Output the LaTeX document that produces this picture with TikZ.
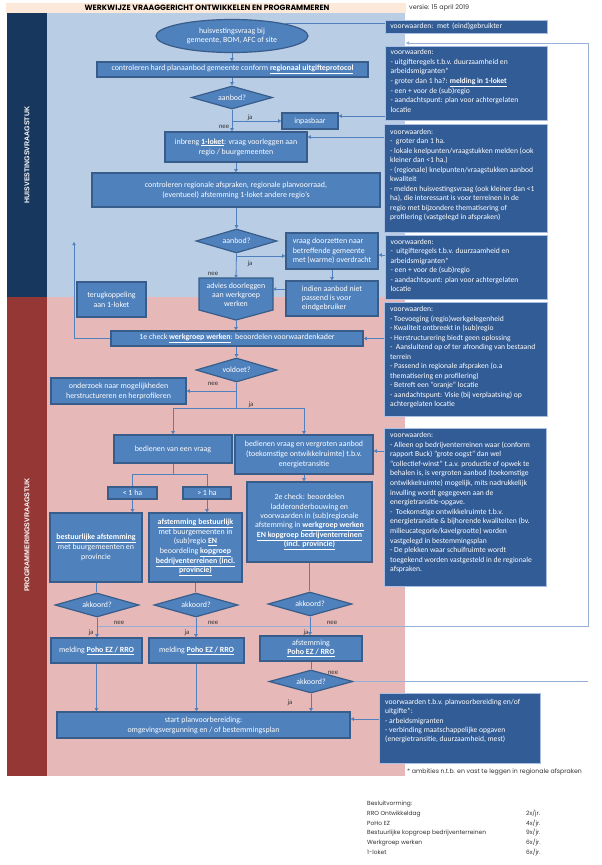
\documentclass[tikz,border=0pt]{standalone}
\usepackage{fontspec}
\setmainfont{Carlito}
\newfontfamily\gothic{Poppins}
\newfontfamily\sidefont{Liberation Sans}
\usetikzlibrary{shapes.geometric,arrows.meta}
\definecolor{bgblue}{RGB}{185,205,229}
\definecolor{bgpink}{RGB}{230,185,184}
\definecolor{navyband}{RGB}{23,55,94}
\definecolor{redband}{RGB}{149,55,53}
\definecolor{hdr}{RGB}{253,233,217}
\definecolor{flowfill}{RGB}{79,129,189}
\definecolor{flowdraw}{RGB}{56,93,138}
\definecolor{cfill}{RGB}{50,92,150}
\definecolor{cdraw}{RGB}{170,190,225}
\definecolor{lineblue}{RGB}{80,128,190}
\definecolor{retblue}{RGB}{150,175,215}
\definecolor{labgray}{RGB}{50,50,50}
\newcommand\flowfont{\fontsize{7.9}{9.9}\selectfont}
\newcommand\cfont{\fontsize{7.6}{9.7}\selectfont}
\begin{document}
\begin{tikzpicture}[x=1pt,y=-1pt,
  fbox/.style={rectangle, fill=flowfill, draw=flowdraw, line width=1.2pt, text=white, align=center, inner sep=1pt, font=\flowfont},
  dec/.style={diamond, fill=flowfill, draw=flowdraw, line width=1.2pt, text=white, inner sep=0pt, aspect=3, font=\flowfont},
  cbox/.style={rectangle, fill=cfill, draw=cdraw, line width=0.6pt, anchor=north west, inner sep=0pt},
  ctext/.style={text=white, align=left, anchor=north west, inner sep=0pt},
  conn/.style={draw=lineblue, line width=0.8pt},
  arr/.style={conn, -{Triangle[length=3.2pt,width=3.4pt]}},
  ret/.style={draw=retblue, line width=0.8pt},
  lab/.style={font=\fontsize{6.8}{7}\selectfont, text=labgray, inner sep=0pt},
  legend/.style={font=\gothic\fontsize{5.9}{7}\selectfont, text=labgray, inner sep=0pt, anchor=base west}]
\useasboundingbox (0,0) rectangle (602,865);
\fill[white] (0,0) rectangle (602,865);
% backgrounds
\fill[hdr] (6,3) rectangle (406,13);
\fill[navyband] (7,13) rectangle (47,297);
\fill[redband] (7,297) rectangle (47,776);
\fill[bgblue] (47,13) rectangle (405,297);
\fill[bgpink] (47,297) rectangle (405,776);
\node[font=\gothic\bfseries\fontsize{7.7}{8}\selectfont, inner sep=0pt] (title) at (207,8) {WERKWIJZE VRAAGGERICHT ONTWIKKELEN EN PROGRAMMEREN};
\node[font=\gothic\fontsize{6.4}{7}\selectfont, anchor=west, inner sep=0pt, text=labgray] (versie) at (409,7.5) {versie: 15 april 2019};
\node[rotate=90, text=white, font=\sidefont\fontsize{7}{8}\selectfont\bfseries] (sideA) at (27,155) {HUISVESTINGSVRAAGSTUK};
\node[rotate=90, text=white, font=\sidefont\fontsize{7}{8}\selectfont\bfseries] (sideB) at (27,535) {PROGRAMMERINGSVRAAGSTUK};

% helper coordinates
\coordinate (h116) at (0,116);
\coordinate (h137) at (0,137);
\coordinate (h255) at (0,255);
\coordinate (h256) at (0,256);
\coordinate (h451) at (0,451);
\coordinate (h626) at (0,626);
\coordinate (h719) at (0,719);
\coordinate (retR) at (588,43);
\coordinate (retTop) at (406,43);
\coordinate (loopTop) at (74,242);

% right condition boxes
\node[cbox, minimum width=162, minimum height=13, text=white, align=left, text width=152, inner xsep=5pt, font=\cfont] (c1) at (385,20) {voorwaarden: met (eind)gebruikter};
\node[cbox, minimum width=162, minimum height=74] (c2) at (385,46) {};
\node[ctext, font=\fontsize{7.6}{9.7}\selectfont, xshift=5.5pt, yshift=-3pt] (c2t) at (c2.north west) {voorwaarden:\\- uitgifteregels t.b.v. duurzaamheid en\\arbeidsmigranten*\\- groter dan 1 ha?: \underline{\textbf{melding in 1-loket}}\\- een + voor de (sub)regio\\- aandachtspunt: plan voor achtergelaten\\locatie};
\node[cbox, minimum width=163, minimum height=108] (c3) at (384,124) {};
\node[ctext, font=\fontsize{7.6}{9.45}\selectfont, xshift=6pt, yshift=-5pt] (c3t) at (c3.north west) {voorwaarden:\\-\ \ groter dan 1 ha.\\- lokale knelpunten/vraagstukken melden (ook\\kleiner dan <1 ha.)\\- (regionale) knelpunten/vraagstukken aanbod\\kwaliteit\\- melden huisvestingsvraag (ook kleiner dan <1\\ha), die interessant is voor terreinen in de\\regio met bijzondere thematisering of\\profilering (vastgelegd in afspraken)};
\node[cbox, minimum width=162, minimum height=64] (c4) at (385,235) {};
\node[ctext, font=\fontsize{7.6}{9.5}\selectfont, xshift=5.5pt, yshift=-4pt] (c4t) at (c4.north west) {voorwaarden:\\-\ \ uitgifteregels t.b.v. duurzaamheid en\\arbeidsmigranten*\\- een + voor de (sub)regio\\- aandachtspunt: plan voor achtergelaten\\locatie};
\node[cbox, minimum width=163, minimum height=114] (c5) at (384,302) {};
\node[ctext, font=\fontsize{7.6}{9.5}\selectfont, xshift=6pt, yshift=-4.5pt] (c5t) at (c5.north west) {voorwaarden:\\- Toevoeging (regio)werkgelegenheid\\- Kwaliteit ontbreekt in (sub)regio\\- Herstructurering biedt geen oplossing\\-\ \ Aansluitend op of ter afronding van bestaand\\terrein\\- Passend in regionale afspraken (o.a\\thematisering en profilering)\\- Betreft een "oranje" locatie\\- aandachtspunt: Visie (bij verplaatsing) op\\achtergelaten locatie};
\node[cbox, minimum width=162, minimum height=158] (c6) at (384,428) {};
\node[ctext, font=\fontsize{7.6}{9.6}\selectfont, xshift=6pt, yshift=-4pt] (c6t) at (c6.north west) {voorwaarden:\\- Alleen op bedrijventerreinen waar (conform\\rapport Buck) "grote oogst" dan wel\\"collectief-winst" t.a.v. productie of opwek te\\behalen is, is vergroten aanbod (toekomstige\\ontwikkelruimte) mogelijk, mits nadrukkelijk\\invulling wordt gegegeven aan de\\energietransitie-opgave.\\-\ \ Toekomstige ontwikkelruimte t.b.v.\\energietransitie \& bijhorende kwaliteiten (bv.\\milieucategorie/kavelgrootte) worden\\vastgelegd in bestemmingsplan\\- De plekken waar schuifruimte wordt\\toegekend worden vastgesteld in de regionale\\afspraken.};
\node[cbox, minimum width=161, minimum height=70] (c7) at (379,693) {};
\node[ctext, font=\fontsize{7.6}{9.3}\selectfont, xshift=6pt, yshift=-6pt] (c7t) at (c7.north west) {voorwaarden t.b.v. planvoorbereiding en/of\\uitgifte*:\\- arbeidsmigranten\\- verbinding maatschappelijke opgaven\\(energietransitie, duurzaamheid, mest)};
\node[font=\gothic\fontsize{6.2}{7}\selectfont, anchor=west, inner sep=0pt, text=labgray] (foot) at (407,772) {* ambities n.t.b. en vast te leggen in regionale afspraken};

% flow nodes
\node[ellipse, fill=flowfill, draw=flowdraw, line width=1.2pt, minimum width=152, minimum height=33, inner sep=0pt, text=white, align=center, font=\fontsize{7.9}{8.8}\selectfont] (ell) at (232,36) {huisvestingsvraag bij\\gemeente, BOM, AFC of site};
\node[fbox, minimum width=271, minimum height=15] (hard) at (232.5,69.5) {controleren hard planaanbod gemeente conform \underline{\textbf{regionaal uitgifteprotocol}}};
\node[dec, minimum width=81, minimum height=23] (dia1) at (232,97.5) {aanbod?};
\node[fbox, minimum width=56, minimum height=16] (inpas) at (310,121) {inpasbaar};
\node[fbox, minimum width=142, minimum height=30] (inbreng) at (236,147) {inbreng \underline{\textbf{1-loket}}: vraag voorleggen aan\\regio / buurgemeenten};
\node[fbox, minimum width=288, minimum height=34] (contreg) at (236,190) {controleren regionale afspraken, regionale planvoorraad,\\(eventueel) afstemming 1-loket andere regio’s};
\node[dec, minimum width=81, minimum height=24] (dia2) at (236.5,241) {aanbod?};
\node[fbox, minimum width=92, minimum height=36, align=left, font=\fontsize{7.9}{9.4}\selectfont] (vraag) at (332,251) {vraag doorzetten naar\\betreffende gemeente\\met (warme) overdracht};
\node[fbox, minimum width=92, minimum height=35, align=left, font=\fontsize{7.9}{9.4}\selectfont] (indien) at (332,298.5) {indien aanbod niet\\passend is voor\\eindgebruiker};
\node[fbox, minimum width=69, minimum height=35] (terug) at (111.5,299.5) {terugkoppeling\\aan 1-loket};
\draw[fill=flowfill, draw=flowdraw, line width=1.2pt] (199,278) -- (273,278) -- (273,310) -- (236,320) -- (199,310) -- cycle;
\node[text=white, align=center, font=\fontsize{7.9}{9.2}\selectfont, inner sep=0pt] (advies) at (236,294.5) {advies doorleggen\\aan werkgroep\\werken};
\coordinate (advT) at (236,278);
\coordinate (advP) at (236,320);
\coordinate (advR) at (273,289);
\node[fbox, minimum width=252, minimum height=15] (check1) at (237,338.5) {1e check \underline{\textbf{werkgroep werken}}: beoordelen voorwaardenkader};
\node[dec, minimum width=81, minimum height=24] (voldoet) at (236.5,370) {voldoet?};
\node[fbox, minimum width=135, minimum height=26] (onderzoek) at (118.5,391) {onderzoek naar mogelijkheden\\herstructureren en herprofileren};
\node[fbox, minimum width=118, minimum height=28] (bvraag) at (173,449) {bedienen van een vraag};
\node[fbox, minimum width=138, minimum height=39] (bvergr) at (304,454.5) {bedienen vraag en vergroten aanbod\\(toekomstige ontwikkelruimte) t.b.v.\\energietransitie};
\node[fbox, minimum width=49, minimum height=12] (lt1) at (132.5,493) {< 1 ha};
\node[fbox, minimum width=48, minimum height=12] (gt1) at (207,493) {> 1 ha};
\node[fbox, minimum width=92, minimum height=69] (bestafst) at (96,547.5) {\underline{\textbf{bestuurlijke afstemming}}\\met buurgemeenten en\\provincie};
\node[fbox, minimum width=93, minimum height=69, font=\fontsize{7.9}{9.7}\selectfont] (afstbest) at (195.5,547.5) {\underline{\textbf{afstemming bestuurlijk}}\\met buurgemeenten in\\(sub)regio \underline{\textbf{EN}}\\beoordeling \underline{\textbf{kopgroep}}\\\underline{\textbf{bedrijventerreinen (incl.}}\\\underline{\textbf{provincie)}}};
\node[fbox, minimum width=125, minimum height=80, font=\fontsize{7.9}{9.4}\selectfont] (check2) at (309.5,522) {2e check: beoordelen\\ladderonderbouwing en\\voorwaarden in (sub)regionale\\afstemming in \underline{\textbf{werkgroep werken}}\\\underline{\textbf{EN kopgroep bedrijventerreinen}}\\\underline{\textbf{(incl. provincie)}}};
\node[dec, minimum width=84, minimum height=24] (ak1) at (97,605) {akkoord?};
\node[dec, minimum width=84, minimum height=24] (ak2) at (196,605) {akkoord?};
\node[dec, minimum width=84, minimum height=24] (ak3) at (310,604) {akkoord?};
\node[fbox, minimum width=91, minimum height=25] (meld1) at (96.5,650.5) {melding \underline{\textbf{Poho EZ / RRO}}};
\node[fbox, minimum width=95, minimum height=25] (meld2) at (196.5,650.5) {melding \underline{\textbf{Poho EZ / RRO}}};
\node[fbox, minimum width=102, minimum height=25, font=\fontsize{7.9}{9.2}\selectfont] (afpoho) at (311,648.5) {afstemming\\\underline{\textbf{Poho EZ / RRO}}};
\node[dec, minimum width=84, minimum height=23] (ak4) at (311,681.5) {akkoord?};
\node[fbox, minimum width=293, minimum height=26] (start) at (203.5,725) {start planvoorbereiding:\\omgevingsvergunning en / of bestemmingsplan};

% connectors
\draw[conn] (ell.13) -- (ell.13 -| c1.west);
\draw[arr] (ell.south) -- (ell.south |- hard.north);
\draw[arr] (hard.south -| dia1.north) -- (dia1.north);
\draw[arr] (dia1.south) -- (dia1.south |- inbreng.north);
\draw[arr] (dia1.south |- inpas.west) -- (inpas.west);
\draw[arr] (c2.west |- h116) -- (inpas.east |- h116);
\draw[arr] (c3.west |- h137) -- (inbreng.east |- h137);
\draw[arr] (inbreng.south) -- (contreg.north);
\draw[arr] (contreg.south -| dia2.north) -- (dia2.north);
\draw[arr] (dia2.south) -- (advT);
\draw[arr] (dia2.south |- h256) -- (vraag.west |- h256);
\draw[arr] (c4.west |- h255) -- (vraag.east |- h255);
\draw[arr] (vraag.south) -- (indien.north);
\draw[arr] (indien.west |- advR) -- (advR);
\draw[arr] (advP) -- (advP |- check1.north);
\draw[arr] (check1.west) -| (loopTop);
\draw[arr] (c5.west |- check1.east) -- (check1.east);
\draw[arr] (check1.south -| voldoet.north) -- (voldoet.north);
\draw[arr] (voldoet.south |- onderzoek.east) -- (onderzoek.east);
\coordinate (vJ) at (236.5,408);
\draw[conn] (voldoet.south) -- (vJ);
\draw[arr] (vJ) -| (bvraag.north);
\draw[arr] (vJ) -| (bvergr.north);
\draw[arr] (c6.west |- h451) -- (bvergr.east |- h451);
\coordinate (bvJ) at (173,474);
\draw[conn] (bvraag.south) -- (bvJ);
\draw[conn] (bvJ) -| (lt1.north);
\draw[conn] (bvJ) -| (gt1.north);
\draw[arr] (lt1.south) -- (lt1.south |- bestafst.north);
\draw[arr] (gt1.south) -- (gt1.south |- afstbest.north);
\draw[arr] (bvergr.south) -- (bvergr.south |- check2.north);
\draw[conn] (bestafst.south) -- (bestafst.south |- ak1.north);
\draw[conn] (afstbest.south) -- (afstbest.south |- ak2.north);
\draw[conn] (check2.south) -- (check2.south |- ak3.north);
\draw[ret, -{Triangle[length=3.2pt,width=3.4pt]}] (ak1.south |- h626) -| (retR) -- (retTop);
\draw[ret] (ak4.east) -- (ak4.east -| retR);
\draw[arr] (ak1.south) -- (ak1.south |- meld1.north);
\draw[arr] (ak2.south) -- (ak2.south |- meld2.north);
\draw[arr] (ak3.south) -- (ak3.south |- afpoho.north);
\draw[conn] (afpoho.south) -- (afpoho.south |- ak4.north);
\draw[arr] (ak4.south) -- (ak4.south |- start.north);
\draw[arr] (meld1.south) -- (meld1.south |- start.north);
\draw[arr] (meld2.south) -- (meld2.south |- start.north);
\draw[arr] (c7.west |- h719) -- (start.east |- h719);

% labels
\node[lab] (l1ja) at (250,118) {ja};
\node[lab] (l1nee) at (224,127) {nee};
\node[lab] (l2ja) at (250,264) {ja};
\node[lab] (l2nee) at (213,274) {nee};
\node[lab] (l3nee) at (213,384) {nee};
\node[lab] (l3ja) at (251,405) {ja};
\node[lab] (l4nee) at (119,623) {nee};
\node[lab] (l5nee) at (213,623) {nee};
\node[lab] (l6nee) at (332,623) {nee};
\node[lab] (l4ja) at (91,633) {ja};
\node[lab] (l5ja) at (187,633) {ja};
\node[lab] (l6ja) at (306,633) {ja};
\node[lab] (l7nee) at (333,673) {nee};
\node[lab] (l7ja) at (290,703) {ja};

% legend
\node[legend] (lg0) at (367,805) {Besluitvorming:};
\node[legend] (lg1) at (367,815) {RRO Ontwikkeldag};
\node[legend] (lg2) at (367,825) {PoHo EZ};
\node[legend] (lg3) at (367,834.5) {Bestuurlijke kopgroep bedrijventerreinen};
\node[legend] (lg4) at (367,844) {Werkgroep werken};
\node[legend] (lg5) at (367,854) {1-loket};
\node[legend] (lf1) at (526,815) {2x/jr.};
\node[legend] (lf2) at (526,825) {4x/jr.};
\node[legend] (lf3) at (526,834.5) {9x/jr.};
\node[legend] (lf4) at (526,844) {6x/jr.};
\node[legend] (lf5) at (526,854) {6x/jr.};
\end{tikzpicture}
\end{document}
